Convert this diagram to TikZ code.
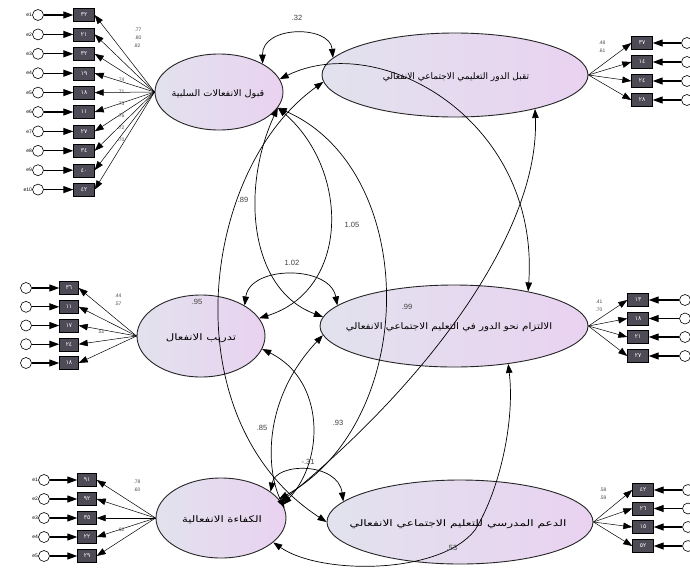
\documentclass[tikz,border=0pt]{standalone}
\usepackage{graphicx}
\usepackage{fontspec}
\setmainfont{Liberation Sans}
\newfontfamily\arabicfont[Script=Arabic]{DejaVu Sans}
\TeXXeTstate=1
\usetikzlibrary{shapes.geometric,arrows.meta}
\definecolor{latL}{HTML}{E2E2EE}
\definecolor{latR}{HTML}{E9D2F0}
\definecolor{obsF}{HTML}{4E4A56}
\begin{document}
\begin{tikzpicture}[x=1pt,y=-1pt,
  lat/.style={ellipse, draw=black!85, line width=0.9pt, left color=latL, right color=latR, inner sep=0pt},
  lt/.style={font=\arabicfont\fontsize{9}{10}\selectfont, inner sep=0pt},
  obs/.style={rectangle, draw=black, fill=obsF, text=white, minimum width=21pt, minimum height=13pt, inner sep=0pt, font=\arabicfont\fontsize{6}{6}\selectfont},
  err/.style={circle, draw=black, fill=white, minimum size=11pt, inner sep=0pt, line width=0.6pt},
  elab/.style={font=\fontsize{5}{5}\selectfont, inner sep=0pt, anchor=east},
  load/.style={-{Triangle[length=9pt,width=6.5pt]}, line width=0.5pt},
  erra/.style={-{Triangle[length=10pt,width=7pt]}, line width=1.2pt},
  cov/.style={<->, >={Triangle[length=9pt,width=6.5pt]}, line width=0.7pt},
  num/.style={font=\fontsize{7.5}{7.5}\selectfont, text=black!75, inner sep=0pt},
  snum/.style={font=\fontsize{5}{5}\selectfont, text=black!70, inner sep=0pt}]
\useasboundingbox (0,0) rectangle (690,571);
\fill[white] (0,0) rectangle (690,571);

% latent variables
\node[lat, minimum width=128pt, minimum height=76pt] (L1) at (219,92) {};
\node[lat, minimum width=266pt, minimum height=84pt] (R1) at (455,75) {};
\node[lat, minimum width=128pt, minimum height=82pt] (L2) at (201,336) {};
\node[lat, minimum width=268pt, minimum height=82pt] (R2) at (454,326) {};
\node[lat, minimum width=130pt, minimum height=80pt] (L3) at (221,518) {};
\node[lat, minimum width=266pt, minimum height=84pt] (R3) at (460,522) {};

\node[lt] (L1t) at (218,94) {\scalebox{1.08}[1]{\beginR قبول الانفعالات السلبية\endR}};
\node[lt] (R1t) at (456,77) {\beginR تقبل الدور التعليمي الاجتماعي الانفعالي\endR};
\node[lt] (L2t) at (201,338) {\scalebox{1.3}[1]{\beginR تدريب الانفعال\endR}};
\node[lt] (R2t) at (449,327) {\scalebox{1.15}[1]{\beginR الالتزام نحو الدور في التعليم الاجتماعي الانفعالي\endR}};
\node[lt] (L3t) at (222,520) {\scalebox{1.3}[1]{\beginR الكفاءة الانفعالية\endR}};
\node[lt] (R3t) at (458,524) {\scalebox{1.35}[1]{\beginR الدعم المدرسي للتعليم الاجتماعي الانفعالي\endR}};

% indicators of L1
\foreach \y/\lab [count=\i] in {15/٣٢,34.4/٢١,53.8/٣٢,73.2/١٩,92.6/١٨,112/١١,131.4/٢٧,150.8/٣٤,170.2/٤٠,189.6/٤٢}{
  \node[obs] (L1b\i) at (84,\y) {\lab};
  \node[err] (L1e\i) at (38,\y) {};
  \node[elab] (L1l\i) at (L1e\i.west) {e\i};
  \draw[erra] (L1e\i) -- (L1b\i);
  \draw[load] (L1.west) -- (L1b\i.east);
}
% indicators of L2
\foreach \y/\lab [count=\i] in {288/٣٦,306.8/١١,325.5/١٧,344.2/٢٤,363/١٨}{
  \node[obs, minimum width=19pt] (L2b\i) at (69,\y) {\lab};
  \node[err] (L2e\i) at (26,\y) {};
  \draw[erra] (L2e\i) -- (L2b\i);
  \draw[load] (L2.west) -- (L2b\i.east);
}
% indicators of L3
\foreach \y/\lab [count=\i] in {480/٩١,499/٩٢,518/٣٥,537/٢٢,556/٢٩}{
  \node[obs, minimum width=19pt] (L3b\i) at (87,\y) {\lab};
  \node[err] (L3e\i) at (44,\y) {};
  \node[elab] (L3l\i) at (L3e\i.west) {e\i};
  \draw[erra] (L3e\i) -- (L3b\i);
  \draw[load] (L3.west) -- (L3b\i.east);
}
% indicators of R1
\foreach \y/\lab [count=\i] in {43/٣٧,62/١٤,81/٢٤,100/٢٨}{
  \node[obs] (R1b\i) at (642,\y) {\lab};
  \node[err] (R1e\i) at (687,\y) {};
  \draw[erra] (R1e\i) -- (R1b\i);
  \draw[load] (R1.east) -- (R1b\i.west);
}
% indicators of R2
\foreach \y/\lab [count=\i] in {300/١٣,318.5/١٨,337/٢١,356/٢٧}{
  \node[obs] (R2b\i) at (638,\y) {\lab};
  \node[err] (R2e\i) at (685,\y) {};
  \draw[erra] (R2e\i) -- (R2b\i);
  \draw[load] (R2.east) -- (R2b\i.west);
}
% indicators of R3
\foreach \y/\lab [count=\i] in {490/٤٢,508.5/٢٦,527/١٥,546/٥٢}{
  \node[obs] (R3b\i) at (643,\y) {\lab};
  \node[err] (R3e\i) at (688,\y) {};
  \draw[erra] (R3e\i) -- (R3b\i);
  \draw[load] (R3.east) -- (R3b\i.west);
}

% covariances
\draw[cov] (L1.33) .. controls (262,25) and (330,25) .. (R1.172);
\draw[cov] (L1.12) .. controls (380,30) and (540,120) .. (R2.25);
\draw[cov] (R1.-23) .. controls (540,230) and (430,380) .. (L3.15);
\draw[cov] (L1.-15) .. controls (420,170) and (420,420) .. (L3.18);
\draw[cov] (L1.-15) .. controls (350,170) and (350,290) .. (L2.17);
\draw[cov] (L1.-15) .. controls (240,190) and (250,290) .. (R2.176);
\draw[cov] (R1.183) .. controls (200,170) and (170,420) .. (R3.180);
\draw[cov] (L2.-12) .. controls (325,380) and (325,460) .. (L3.12);
\draw[cov] (R2.184) .. controls (262,400) and (266,470) .. (L3.9);
\draw[cov] (L2.35) .. controls (250,265) and (330,265) .. (R2.170);
\draw[cov] (L3.28) .. controls (276,462) and (338,462) .. (R3.170);
\draw[cov] (L3.-25) .. controls (320,575) and (440,575) .. (475,530) .. controls (500,490) and (515,420) .. (R2.-35);

% covariance values
\node[num] (c32) at (297,18) {.32};
\node[num] (c89) at (243,200) {.89};
\node[num] (c105) at (352,225) {1.05};
\node[num] (c102) at (292,263) {1.02};
\node[num] (c95) at (197,302) {.95};
\node[num] (c99) at (407,307) {.99};
\node[num] (c85) at (262,428) {.85};
\node[num] (c93) at (338,423) {.93};
\node[num] (c31) at (308,462) {-.31};
\node[num] (c53) at (452,548) {.53};

% loadings
\node[snum] (f1) at (138,30) {.77};
\node[snum] (f2) at (138,38) {.80};
\node[snum] (f3) at (137,46) {.82};
\node[snum] (f4) at (121,80) {.74};
\node[snum] (f5) at (121,92) {.71};
\node[snum] (f6) at (121,104) {.73};
\node[snum] (f7) at (121,116) {.76};
\node[snum] (f8) at (121,128) {.72};
\node[snum] (f9) at (121,140) {.70};
\node[snum] (g1) at (118,296) {.44};
\node[snum] (g2) at (118,304) {.57};
\node[snum] (g3) at (101,332) {.51};
\node[snum] (h1) at (137,482) {.78};
\node[snum] (h2) at (137,490) {.60};
\node[snum] (h3) at (121,530) {.62};
\node[snum] (k1) at (602,43) {.48};
\node[snum] (k2) at (602,51) {.61};
\node[snum] (m1) at (599,302) {.41};
\node[snum] (m2) at (599,310) {.70};
\node[snum] (p1) at (603,490) {.58};
\node[snum] (p2) at (603,498) {.59};
\end{tikzpicture}
\end{document}
